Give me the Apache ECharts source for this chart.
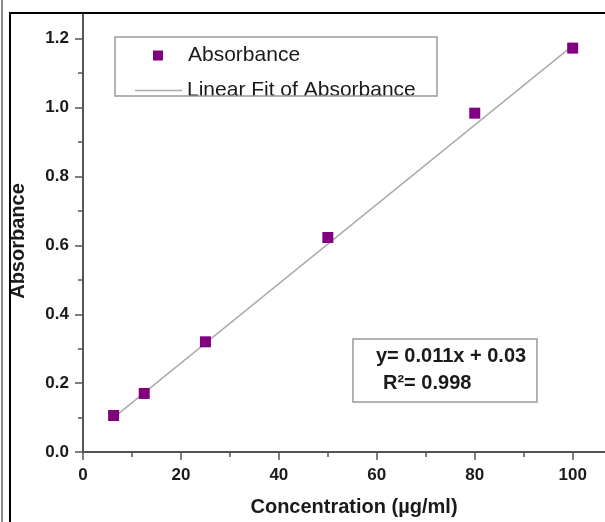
<!DOCTYPE html>
<html>
<head>
<meta charset="utf-8">
<script src="https://cdn.jsdelivr.net/npm/echarts@6/dist/echarts.min.js"></script>
<style>
  html, body { margin: 0; padding: 0; background: #fff; }
  #chart { width: 605px; height: 522px; }
</style>
</head>
<body>
<div id="chart"></div>
<script>
// 数据
const concentration = [6.25, 12.5, 25, 50, 80, 100];
const absorbance = [0.106, 0.17, 0.32, 0.623, 0.984, 1.173];
// 拟合直线两端
const fitX = [6.25, 100];
const fitY = [0.1, 1.18];
// 刻度
const xTicks = [0, 20, 40, 60, 80, 100];
const xMinorTicks = [10, 30, 50, 70, 90];
const yTicks = [0, 0.2, 0.4, 0.6, 0.8, 1.0, 1.2];
const yMinorTicks = [0.1, 0.3, 0.5, 0.7, 0.9, 1.1];

const FONT = "Liberation Sans, Arial, sans-serif";
const AXIS_COLOR = "#555";
const FIT_COLOR = "#ababab";
const X_MAX = 106.6;
const Y_MAX = 1.272;

function axisBase() {
  return {
    type: "value",
    axisLine: { show: true, onZero: false, lineStyle: { color: AXIS_COLOR, width: 2 } },
    splitLine: { show: false },
  };
}

const chart = echarts.init(document.getElementById("chart"));
chart.setOption({
  animation: false,
  grid: { left: 82, top: 14, right: 0, bottom: 67 },
  xAxis: [
    Object.assign(axisBase(), {
      min: 0,
      max: X_MAX,
      position: "bottom",
      name: "Concentration (\u00b5g/ml)",
      nameLocation: "middle",
      nameGap: 45,
      nameTextStyle: { fontFamily: FONT, fontSize: 20, fontWeight: "bold", color: "#1a1a1a", padding: [0, 0, 0, 20] },
      axisTick: { show: true, length: 8, customValues: xTicks, lineStyle: { color: AXIS_COLOR, width: 1.5 } },
      axisLabel: {
        customValues: xTicks,
        margin: 15,
        fontFamily: FONT, fontSize: 17, fontWeight: "bold", color: "#1a1a1a",
      },
    }),
    // 次刻度
    Object.assign(axisBase(), {
      min: 0,
      max: X_MAX,
      position: "bottom",
      axisLine: { show: false },
      axisTick: { show: true, length: 5, customValues: xMinorTicks, lineStyle: { color: AXIS_COLOR, width: 1.5 } },
      axisLabel: { show: false },
    }),
  ],
  yAxis: [
    Object.assign(axisBase(), {
      min: 0,
      max: Y_MAX,
      position: "left",
      name: "Absorbance",
      nameLocation: "middle",
      nameGap: 55,
      nameTextStyle: { fontFamily: FONT, fontSize: 20, fontWeight: "bold", color: "#1a1a1a", padding: [0, 16, 0, 0] },
      axisTick: { show: true, length: 8, customValues: yTicks, lineStyle: { color: AXIS_COLOR, width: 1.5 } },
      axisLabel: {
        customValues: yTicks,
        margin: 14,
        formatter: (v) => v.toFixed(1),
        fontFamily: FONT, fontSize: 17, fontWeight: "bold", color: "#1a1a1a",
      },
    }),
    Object.assign(axisBase(), {
      min: 0,
      max: Y_MAX,
      position: "left",
      axisLine: { show: false },
      axisTick: { show: true, length: 5, customValues: yMinorTicks, lineStyle: { color: AXIS_COLOR, width: 1.5 } },
      axisLabel: { show: false },
    }),
  ],
  legend: [
    {
      left: 153,
      top: 45,
      padding: 0,
      itemWidth: 10,
      itemHeight: 10,
      data: [{ name: "Absorbance", icon: "rect" }],
      formatter: (name) => `{gap| }${name}`,
      textStyle: {
        fontFamily: FONT, fontSize: 21, color: "#1a1a1a",
        rich: { gap: { width: 20 } },
      },
    },
    {
      left: 135,
      top: 80,
      padding: 0,
      itemWidth: 47,
      itemHeight: 14,
      data: [{ name: "Linear Fit of Absorbance", icon: "path://M0,0h47v1.5h-47z" }],
      textStyle: { fontFamily: FONT, fontSize: 21, color: "#1a1a1a" },
    },
  ],
  series: [
    {
      name: "Linear Fit of Absorbance",
      type: "line",
      xAxisIndex: 0,
      yAxisIndex: 0,
      symbol: "none",
      itemStyle: { color: FIT_COLOR },
      lineStyle: { color: FIT_COLOR, width: 1.5 },
      data: fitX.map((x, i) => [x, fitY[i]]),
      z: 2,
    },
    {
      name: "Absorbance",
      type: "scatter",
      xAxisIndex: 0,
      yAxisIndex: 0,
      symbol: "rect",
      symbolSize: 11,
      itemStyle: { color: "#800080", opacity: 1 },
      data: concentration.map((x, i) => [x, absorbance[i]]),
      z: 3,
    },
  ],
  graphic: [
    // 外框
    { type: "line", shape: { x1: 2, y1: 0, x2: 2, y2: 522 }, style: { stroke: "#8a8a8a", lineWidth: 2 }, z: 100 },
    { type: "line", shape: { x1: 10, y1: 12, x2: 10, y2: 522 }, style: { stroke: "#000", lineWidth: 2 }, z: 100 },
    { type: "line", shape: { x1: 9, y1: 13, x2: 605, y2: 13 }, style: { stroke: "#000", lineWidth: 2 }, z: 100 },
    // 图例框
    { type: "rect", shape: { x: 115, y: 37, width: 322, height: 59 }, style: { fill: "none", stroke: "#999", lineWidth: 1.5 }, z: 50 },
    // 公式框
    { type: "rect", shape: { x: 353, y: 339, width: 184, height: 63 }, style: { fill: "#fff", stroke: "#999", lineWidth: 1.5 }, z: 50 },
    {
      type: "text", x: 376, y: 356, z: 51,
      style: { text: "y= 0.011x + 0.03", fontFamily: FONT, fontSize: 20, fontWeight: "bold", fill: "#1a1a1a", verticalAlign: "middle" },
    },
    {
      type: "text", x: 383, y: 383, z: 51,
      style: { text: "R\u00b2= 0.998", fontFamily: FONT, fontSize: 20, fontWeight: "bold", fill: "#1a1a1a", verticalAlign: "middle" },
    },
  ],
});
</script>
</body>
</html>
